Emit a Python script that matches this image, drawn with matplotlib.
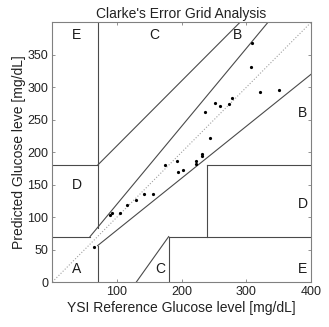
#!/usr/bin/env python3
"""Clarke error grid with paired reference / predicted glucose readings."""

import matplotlib
matplotlib.use("Agg")
import matplotlib.pyplot as plt

plt.rcParams["font.family"] = ["Liberation Sans", "DejaVu Sans"]

# reference (YSI) and predicted glucose, mg/dL
ref = [309, 307, 321, 351, 236, 252, 259, 273, 278,
       244, 231, 232, 222, 223, 175, 193, 195, 202,
       156, 142, 130, 115, 105, 92, 89, 65]
pred = [368, 331, 293, 296, 262, 276, 272, 275, 284,
        222, 198, 194, 187, 182, 181, 186, 169, 172,
        136, 136, 126, 118, 107, 106, 103, 54]

# zone boundaries (x pairs, y pairs)
grid_x = [[0, 175 / 3], [175 / 3, 400 / 1.2], [70, 70], [0, 70], [70, 290],
          [70, 70], [70, 400], [180, 180], [180, 400], [240, 240],
          [240, 400], [130, 180]]
grid_y = [[70, 70], [70, 400], [84, 400], [180, 180], [180, 400],
          [0, 56], [56, 320], [0, 70], [70, 70], [70, 180],
          [180, 180], [0, 70]]

zone_labels = ["A", "D", "E", "C", "C", "E", "D", "B", "B"]
zone_x = [30, 30, 30, 150, 160, 380, 380, 380, 280]
zone_y = [20, 150, 380, 380, 20, 20, 120, 260, 380]

LINE = "#4a4a4a"
SPINE = "#808080"
TEXT = "#222222"

fig = plt.figure(figsize=(3.29, 3.27), dpi=100)
ax = fig.add_axes([0.159, 0.1376, 0.786, 0.7936])

ax.plot([0, 400], [0, 400], linestyle=":", color="#a0a0a0", linewidth=0.8)
for xs, ys in zip(grid_x, grid_y):
    ax.plot(xs, ys, color=LINE, linewidth=0.8)

ax.plot(ref, pred, "o", color="black", markersize=2.3, markeredgewidth=0)

for lab, x, y in zip(zone_labels, zone_x, zone_y):
    ax.text(x, y, lab, fontsize=10, ha="left", va="center", color="#1a1a1a")

ax.set_xlim(0, 400)
ax.set_ylim(0, 400)
ax.set_xticks([100, 200, 300, 400])
ax.set_yticks(range(0, 351, 50))
ax.tick_params(direction="in", length=2.5, width=0.6, colors=SPINE,
               labelcolor=TEXT, labelsize=9, top=True, right=True, pad=3)
for s in ax.spines.values():
    s.set_color(SPINE)
    s.set_linewidth(0.8)

ax.set_title("Clarke's Error Grid Analysis", fontsize=10, color=TEXT, pad=3)
ax.set_xlabel("YSI Reference Glucose level [mg/dL]", fontsize=10, color=TEXT, labelpad=2)
ax.set_ylabel("Predicted Glucose leve [mg/dL]", fontsize=10, color=TEXT, labelpad=1)

fig.savefig("out.png", dpi=100, facecolor="white")
